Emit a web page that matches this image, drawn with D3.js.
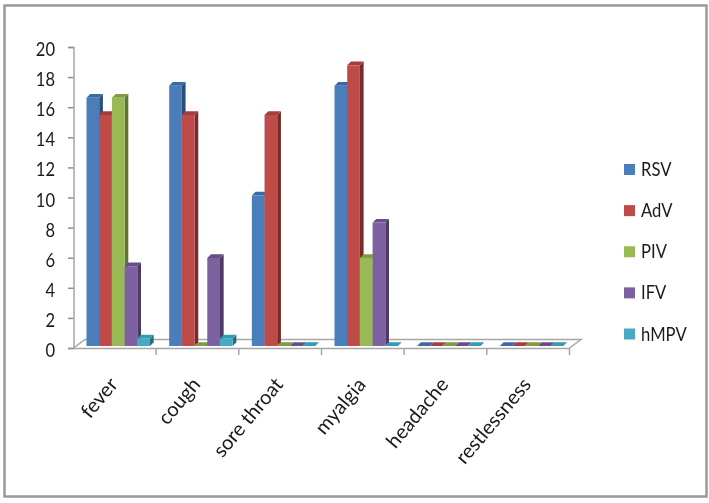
<!DOCTYPE html>
<html>
<head>
<meta charset="utf-8">
<script src="https://cdnjs.cloudflare.com/ajax/libs/d3/7.8.5/d3.min.js"></script>
<style>
body { margin: 0; background: #fff; }
svg { display: block; filter: blur(0.45px); }
text { font-family: Lato, "Open Sans", sans-serif; fill: #1a1a1a; }
</style>
</head>
<body>
<div class="forshow"></div>
<script>
var categories = ["fever", "cough", "sore throat", "myalgia", "headache", "restlessness"];
var seriesNames = ["RSV", "AdV", "PIV", "IFV", "hMPV"];
var RSV = [16.5, 17.3, 10, 17.3, 0, 0];
var AdV = [15.35, 15.35, 15.35, 18.65, 0, 0];
var PIV = [16.5, 0, 0, 5.85, 0, 0];
var IFV = [5.3, 5.85, 0, 8.2, 0, 0];
var hMPV = [0.5, 0.5, 0, 0, 0, 0];
var seriesValues = [RSV, AdV, PIV, IFV, hMPV];
var yTicks = [0, 2, 4, 6, 8, 10, 12, 14, 16, 18, 20];
var frontColors = ["#4a7ebb", "#be4b48", "#98b954", "#7d60a0", "#46aac5"];
var sideColors = ["#2c4d75", "#772c2a", "#5f7530", "#4d3b62", "#2c6b7c"];
var topColors = ["#3b69a3", "#a23f3c", "#7f9b45", "#674e86", "#339ab6"];

var svg = d3.select(".forshow").append("svg")
	.attr("width", 709)
	.attr("height", 503);

// outer frame
svg.append("rect")
	.attr("x", 4.5)
	.attr("y", 5.5)
	.attr("width", 702)
	.attr("height", 491)
	.attr("fill", "#fff")
	.attr("stroke", "#999")
	.attr("stroke-width", 2.5);

var x = d3.scaleBand().domain(categories).range([73.5, 569.5]);
var inner = d3.scaleBand().domain(seriesNames).range([13, 76.5]);
var y = d3.scaleLinear().domain([0, 20]).range([348, 47]);

var depthX = 3.7, depthY = 3.7, liftY = 2;

// floor of the 3d chart
svg.append("path")
	.attr("d", "M73.5,348 L85,339.5 L581,339.5 L569.5,348")
	.attr("fill", "none")
	.attr("stroke", "#a6a6a6")
	.attr("stroke-width", 1.5);

var yAxis = d3.axisLeft(y).tickValues(yTicks).tickSize(5.5).tickFormat(d3.format("d"));
var xAxis = d3.axisBottom(x).tickValues([]).tickSizeOuter(0);

var yG = svg.append("g").attr("transform", "translate(73.5,0)").call(yAxis);
yG.selectAll("line").attr("stroke", "#8f8f8f").attr("stroke-width", 1.5);
yG.select(".domain").attr("stroke", "#a6a6a6").attr("stroke-width", 1.5);
yG.selectAll("text")
	.attr("x", 0)
	.attr("dy", null)
	.attr("transform", "translate(-18.5,8.5) scale(0.85,1.02)")
	.attr("font-size", 19.5)
	.style("font-family", "Lato")
	.attr("fill", "#1a1a1a");

var xG = svg.append("g").attr("transform", "translate(0,348)").call(xAxis);
xG.select(".domain").attr("stroke", "#a6a6a6").attr("stroke-width", 1.5);

// tick marks sit on band edges, not band centres
svg.append("g").selectAll("line")
	.data(categories)
	.enter()
	.append("line")
	.attr("x1", function(d) { return x(d) + x.bandwidth(); })
	.attr("x2", function(d) { return x(d) + x.bandwidth(); })
	.attr("y1", 348)
	.attr("y2", 355)
	.attr("stroke", "#a6a6a6")
	.attr("stroke-width", 1.5);

var w = inner.bandwidth();

var bars = [];
categories.forEach(function(c, ci) {
	seriesNames.forEach(function(s, si) {
		bars.push({ cat: c, name: s, si: si, value: seriesValues[si][ci] });
	});
});

var group = svg.selectAll("g.bar")
	.data(bars)
	.enter()
	.append("g")
	.attr("class", "bar")
	.attr("transform", function(d) {
		return "translate(" + (x(d.cat) + inner(d.name)) + "," + (-liftY) + ")";
	});

// side
group.append("path")
	.attr("d", function(d) {
		return "M" + w + "," + y(d.value) + " l" + depthX + "," + (-depthY) + " L" + (w + depthX) + "," + (y(0) - depthY) + " L" + w + "," + y(0) + " z";
	})
	.attr("fill", function(d) { return sideColors[d.si]; });

// top
group.append("path")
	.attr("d", function(d) {
		return "M0," + y(d.value) + " l" + depthX + "," + (-depthY) + " h" + w + " l" + (-depthX) + "," + depthY + " z";
	})
	.attr("fill", function(d) { return topColors[d.si]; });

// front
group.append("rect")
	.attr("x", 0)
	.attr("y", function(d) { return y(d.value); })
	.attr("width", w)
	.attr("height", function(d) { return y(0) - y(d.value); })
	.attr("fill", function(d) { return frontColors[d.si]; });

// category labels
svg.append("g").selectAll("text")
	.data(categories)
	.enter()
	.append("text")
	.attr("text-anchor", "end")
	.attr("font-size", 20)
	.attr("transform", function(d) {
		return "translate(" + (x(d) + x.bandwidth() / 2 + 4) + ",385) rotate(-50)";
	})
	.text(function(d) { return d; });

// legend
var legendY = d3.scalePoint().domain(seriesNames).range([169.5, 334]);
var legend = svg.append("g").selectAll("g")
	.data(seriesNames)
	.enter()
	.append("g")
	.attr("transform", function(d) { return "translate(624," + legendY(d) + ")"; });
legend.append("rect")
	.attr("x", 0)
	.attr("y", -5.5)
	.attr("width", 11)
	.attr("height", 11)
	.attr("fill", function(d, i) { return frontColors[i]; });
legend.append("text")
	.attr("transform", "translate(17,6.5) scale(0.9,1.05)")
	.attr("font-size", 18.5)
	.text(function(d) { return d; });
</script>
</body>
</html>
